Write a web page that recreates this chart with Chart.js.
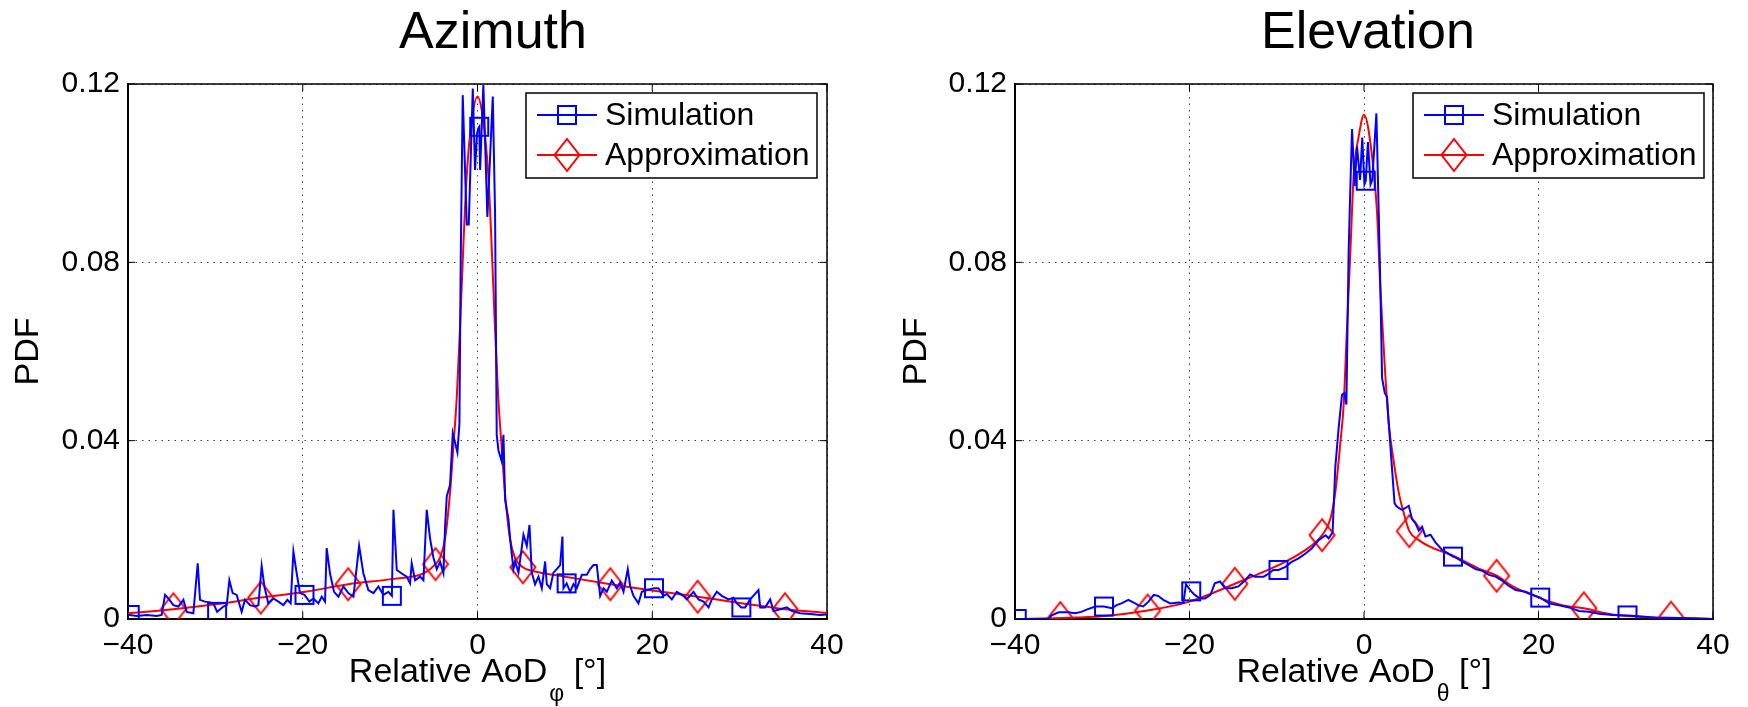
<!DOCTYPE html>
<html>
<head>
<meta charset="utf-8">
<script src="https://cdn.jsdelivr.net/npm/chart.js@4.4.0/dist/chart.umd.min.js"></script>
<style>
  html, body { margin: 0; padding: 0; background: #fff; }
  #wrap { position: relative; width: 1748px; height: 707px; }
  canvas { position: absolute; top: 0; }
  #azCanvas { left: 0; }
  #elCanvas { left: 874px; }
</style>
</head>
<body>
<div id="wrap">
  <canvas id="azCanvas" width="874" height="707"></canvas>
  <canvas id="elCanvas" width="874" height="707"></canvas>
</div>
<script>
// Azimuth - simulated PDF (blue)
const azSimX = [-40, -39.8, -39.0, -37.86, -36.72, -36.15, -35.76, -35.38, -34.81, -34.24, -33.66, -33.28, -32.52, -32.02, -31.76, -31.19, -30.61, -30.23, -29.8, -29.08, -28.7, -28.4, -28.02, -27.56, -26.99, -26.61, -26.03, -25.46, -25.08, -24.7, -24.39, -23.94, -23.36, -22.79, -22.22, -21.76, -21.38, -21.07, -20.69, -20.31, -19.8, -19.24, -18.78, -18.21, -17.83, -17.45, -17.26, -16.88, -16.42, -15.92, -15.35, -14.78, -14.2, -13.55, -13.06, -12.49, -11.91, -11.34, -10.77, -10.2, -9.8, -9.62, -9.24, -8.67, -8.1, -7.72, -7.53, -7.14, -6.57, -6.19, -5.81, -5.43, -5.05, -4.66, -4.28, -3.9, -3.71, -3.52, -3.14, -2.83, -2.56, -2.3, -2.07, -1.92, -1.69, -1.23, -1.0, -0.54, -0.28, -0.05, 0.1, 0.2, 0.3, 0.67, 1.13, 1.75, 2.01, 2.2, 2.4, 2.78, 2.97, 3.16, 3.54, 3.73, 4.11, 4.3, 4.69, 5.26, 5.64, 5.95, 6.21, 6.59, 6.98, 7.36, 7.74, 7.93, 8.31, 8.69, 9.07, 9.46, 9.72, 9.84, 10.2, 10.6, 10.98, 11.36, 11.94, 12.51, 12.89, 13.27, 13.65, 14.04, 14.42, 14.8, 15.37, 15.94, 16.32, 16.71, 17.2, 17.47, 17.85, 18.42, 18.81, 19.38, 20.2, 20.71, 21.29, 21.67, 22.24, 22.81, 23.57, 23.96, 24.72, 25.29, 25.87, 26.44, 26.82, 27.39, 27.96, 28.73, 29.3, 29.68, 30.2, 30.63, 31.21, 32.16, 32.35, 32.92, 33.5, 33.88, 34.64, 35.41, 35.98, 36.93, 38.08, 39.22, 40];
const azSimY = [0.0009, 0.0009, 0.0007, 0.0009, 0.0007, 0.0009, 0.0054, 0.0046, 0.0031, 0.0028, 0.0043, 0.0016, 0.0013, 0.0125, 0.0043, 0.0039, 0.0037, 0.0035, 0.0016, 0.0028, 0.0031, 0.0087, 0.0058, 0.0054, 0.0016, 0.0043, 0.0031, 0.0028, 0.0031, 0.0119, 0.0073, 0.0035, 0.0046, 0.0039, 0.0031, 0.0043, 0.0035, 0.0151, 0.0102, 0.0058, 0.0054, 0.0039, 0.0046, 0.0035, 0.0050, 0.0039, 0.0159, 0.0102, 0.0061, 0.0050, 0.0073, 0.0058, 0.0050, 0.0164, 0.0102, 0.0065, 0.0058, 0.0073, 0.0054, 0.0061, 0.0052, 0.0245, 0.0110, 0.0102, 0.0095, 0.0080, 0.0125, 0.0087, 0.0095, 0.0087, 0.0245, 0.0181, 0.0138, 0.0112, 0.0128, 0.0103, 0.0207, 0.0275, 0.0301, 0.0417, 0.0395, 0.0374, 0.0438, 0.0807, 0.1175, 0.0885, 0.0885, 0.1190, 0.1007, 0.1090, 0.1101, 0.1104, 0.1007, 0.1198, 0.0902, 0.1172, 0.0910, 0.0413, 0.0378, 0.0353, 0.0413, 0.0267, 0.0224, 0.0181, 0.0112, 0.0129, 0.0104, 0.0189, 0.0164, 0.0211, 0.0104, 0.0078, 0.0095, 0.0069, 0.0129, 0.0078, 0.0069, 0.0104, 0.0112, 0.0121, 0.0185, 0.0069, 0.0080, 0.0061, 0.0078, 0.0069, 0.0099, 0.0099, 0.0112, 0.0121, 0.0121, 0.0052, 0.0069, 0.0061, 0.0086, 0.0069, 0.0082, 0.0061, 0.0112, 0.0074, 0.0052, 0.0035, 0.0061, 0.0065, 0.0069, 0.0069, 0.0052, 0.0056, 0.0044, 0.0061, 0.0052, 0.0044, 0.0061, 0.0044, 0.0039, 0.0026, 0.0044, 0.0061, 0.0052, 0.0044, 0.0048, 0.0035, 0.0026, 0.0026, 0.0044, 0.0065, 0.0026, 0.0026, 0.0044, 0.0018, 0.0022, 0.0026, 0.0018, 0.0013, 0.0011, 0.0009, 0.0010];

// Azimuth - approximation (red)
const azFitX = [-40, -34.8, -30, -24.8, -19.7, -14.8, -9.6, -6.2, -4.8, -4.28, -3.71, -3.14, -2.76, -2.37, -2.0, -1.61, -1.23, -0.66, 0, 0.66, 1.23, 1.61, 2.0, 2.37, 2.76, 3.14, 3.71, 4.28, 5.2, 7, 10, 15.2, 20, 25.2, 30, 35.2, 40];
const azFitY = [0.0013, 0.0022, 0.0033, 0.0048, 0.0061, 0.0078, 0.0090, 0.0102, 0.0123, 0.0138, 0.0181, 0.0284, 0.0387, 0.0498, 0.0653, 0.0842, 0.0996, 0.1117, 0.1172, 0.1117, 0.0996, 0.0842, 0.0653, 0.0498, 0.0387, 0.0284, 0.0181, 0.0138, 0.0116, 0.0105, 0.0095, 0.0078, 0.0064, 0.0050, 0.0036, 0.0022, 0.0014];

// Elevation - simulated PDF (blue)
const elSimX = [-40, -39.8, -36.2, -35.8, -35.0, -33.9, -33.1, -32.4, -31.8, -30.8, -29.8, -28.9, -28.35, -27.8, -27.0, -26.4, -25.9, -25.3, -24.7, -24.1, -23.6, -23.0, -22.2, -21.3, -20.7, -20.4, -19.8, -19.4, -18.8, -18.2, -17.6, -17.1, -16.5, -15.9, -15.15, -14.4, -13.6, -13.05, -12.5, -11.5, -10.9, -10.4, -9.8, -9.0, -8.3, -7.5, -6.7, -6.0, -5.2, -4.4, -4.05, -3.6, -3.29, -2.9, -2.52, -2.25, -2.02, -1.76, -1.56, -1.37, -1.07, -0.8, -0.45, -0.2, 0.05, 0.2, 0.45, 0.75, 0.95, 1.42, 1.69, 1.88, 2.07, 2.38, 2.64, 2.84, 3.22, 3.5, 3.68, 3.98, 4.37, 4.75, 5.13, 5.51, 5.9, 6.28, 6.66, 7.04, 7.62, 8.19, 8.96, 9.72, 10.2, 10.49, 11.25, 12.02, 12.78, 13.55, 14.31, 15.08, 15.84, 16.61, 17.37, 18.52, 19.67, 20.2, 21.2, 22.35, 23.5, 24.64, 25.79, 26.94, 28.47, 30.2, 31.53, 33.44, 36.12, 40];
const elSimY = [0.0000, 0.0000, 0.0000, 0.0008, 0.0015, 0.0015, 0.0013, 0.0016, 0.0021, 0.0028, 0.0028, 0.0024, 0.0031, 0.0035, 0.0043, 0.0037, 0.0031, 0.0028, 0.0039, 0.0054, 0.0052, 0.0043, 0.0035, 0.0037, 0.0036, 0.0078, 0.0062, 0.0054, 0.0046, 0.0046, 0.0054, 0.0080, 0.0084, 0.0069, 0.0069, 0.0073, 0.0087, 0.0100, 0.0095, 0.0095, 0.0102, 0.0110, 0.0110, 0.0117, 0.0128, 0.0136, 0.0147, 0.0158, 0.0177, 0.0188, 0.0181, 0.0194, 0.0340, 0.0430, 0.0503, 0.0507, 0.0481, 0.0825, 0.0971, 0.1099, 0.0971, 0.1060, 0.0985, 0.1080, 0.0975, 0.0983, 0.1070, 0.0975, 0.0985, 0.1134, 0.0910, 0.0739, 0.0541, 0.0507, 0.0498, 0.0438, 0.0335, 0.0260, 0.0254, 0.0249, 0.0245, 0.0249, 0.0254, 0.0224, 0.0215, 0.0198, 0.0207, 0.0185, 0.0189, 0.0172, 0.0155, 0.0146, 0.0140, 0.0138, 0.0129, 0.0121, 0.0112, 0.0108, 0.0099, 0.0095, 0.0086, 0.0074, 0.0065, 0.0061, 0.0052, 0.0048, 0.0035, 0.0031, 0.0026, 0.0018, 0.0016, 0.0012, 0.0009, 0.0008, 0.0006, 0.0003, 0.0002, 0.0000];

// Elevation - approximation (red)
const elFitX = [-40, -34.8, -30, -24.8, -20, -14.8, -10, -7, -4.8, -3.86, -3.29, -2.71, -2.33, -1.95, -1.56, -1.18, -0.61, 0, 0.92, 1.5, 1.88, 2.38, 2.84, 3.41, 3.98, 4.75, 5.2, 6.28, 7.81, 10.1, 13.17, 15.2, 17.0, 20.05, 22.73, 25.2, 28.47, 32.3, 35.2, 40];
const elFitY = [0.0000, 0.0002, 0.0006, 0.0019, 0.0039, 0.0079, 0.0119, 0.0151, 0.0188, 0.0224, 0.0284, 0.0395, 0.0481, 0.0653, 0.0825, 0.0996, 0.1082, 0.1131, 0.1039, 0.0910, 0.0739, 0.0567, 0.0438, 0.0353, 0.0284, 0.0224, 0.0197, 0.0177, 0.0160, 0.0143, 0.0113, 0.0097, 0.0074, 0.0048, 0.0031, 0.0024, 0.0010, 0.0004, 0.0003, 0.0000];

// where the markers sit
const simMarkX = [-39.8, -29.8, -19.8, -9.8, 0.2, 10.2, 20.2, 30.2];
const fitMarkX = [-34.8, -24.8, -14.8, -4.8, 5.2, 15.2, 25.2, 35.2];

// axes
const xTicks = [-40, -20, 0, 20, 40];
const yTicks = [0, 0.04, 0.08, 0.12];

const FONT = '"Liberation Sans", Arial, Helvetica, sans-serif';
Chart.defaults.font.family = FONT;
Chart.defaults.color = "#000";

function points(xs, ys) {
  return xs.map((x, i) => ({ x: x, y: ys[i] }));
}

// marker images (MATLAB style open square / tall diamond)
function squareMarker(color) {
  const c = document.createElement("canvas");
  c.width = 24;
  c.height = 24;
  const g = c.getContext("2d");
  g.strokeStyle = color;
  g.lineWidth = 2;
  g.strokeRect(3, 3, 18, 18);
  return c;
}
function diamondMarker(color) {
  const c = document.createElement("canvas");
  c.width = 30;
  c.height = 38;
  const g = c.getContext("2d");
  g.strokeStyle = color;
  g.lineWidth = 2;
  g.beginPath();
  g.moveTo(15, 3);
  g.lineTo(27.5, 19);
  g.lineTo(15, 35);
  g.lineTo(2.5, 19);
  g.closePath();
  g.stroke();
  return c;
}
const blueSquare = squareMarker("#0000ff");
const redDiamond = diamondMarker("#ff0000");

function markAt(list) {
  return (ctx) => (ctx.raw && list.includes(ctx.raw.x) ? 1 : 0);
}

// top/right box edges and inward ticks
const framePlugin = {
  id: "frame",
  beforeDatasetsDraw(chart) {
    const { ctx, chartArea: a, scales: { x, y } } = chart;
    ctx.save();
    ctx.strokeStyle = "#000";
    ctx.lineWidth = 1.5;
    ctx.beginPath();
    ctx.moveTo(a.left, a.top);
    ctx.lineTo(a.right, a.top);
    ctx.lineTo(a.right, a.bottom);
    ctx.stroke();
    ctx.lineWidth = 1;
    ctx.beginPath();
    const t = 7;
    x.ticks.forEach((tk) => {
      const px = x.getPixelForValue(tk.value);
      ctx.moveTo(px, a.bottom);
      ctx.lineTo(px, a.bottom - t);
      ctx.moveTo(px, a.top);
      ctx.lineTo(px, a.top + t);
    });
    y.ticks.forEach((tk) => {
      const py = y.getPixelForValue(tk.value);
      ctx.moveTo(a.left, py);
      ctx.lineTo(a.left + t, py);
      ctx.moveTo(a.right, py);
      ctx.lineTo(a.right - t, py);
    });
    ctx.stroke();
    ctx.restore();
  },
};

// boxed legend inside the axes, line + marker sample
const boxLegend = {
  id: "boxLegend",
  afterDatasetsDraw(chart, args, opts) {
    const { ctx, chartArea: a } = chart;
    const w = 291, h = 85;
    const left = a.right - opts.gap - w;
    const top = a.top + 9;
    ctx.save();
    ctx.fillStyle = "#fff";
    ctx.fillRect(left, top, w, h);
    ctx.strokeStyle = "#000";
    ctx.lineWidth = 1.5;
    ctx.strokeRect(left, top, w, h);
    chart.data.datasets.forEach((ds, i) => {
      const cy = top + 22 + i * 40;
      ctx.strokeStyle = ds.borderColor;
      ctx.lineWidth = 2;
      ctx.beginPath();
      ctx.moveTo(left + 11, cy);
      ctx.lineTo(left + 71, cy);
      ctx.stroke();
      const img = ds.pointStyle;
      ctx.drawImage(img, left + 41 - img.width / 2, cy - img.height / 2);
      ctx.fillStyle = "#000";
      ctx.font = "32px " + FONT;
      ctx.textAlign = "left";
      ctx.textBaseline = "middle";
      ctx.fillText(ds.label, left + 79, cy + 1);
    });
    ctx.restore();
  },
};

// figure title and x label with subscript
const figLabels = {
  id: "figLabels",
  afterDraw(chart, args, opts) {
    const { ctx, chartArea: a } = chart;
    ctx.save();
    ctx.fillStyle = "#000";
    ctx.textBaseline = "alphabetic";
    ctx.textAlign = "center";
    ctx.font = "52px " + FONT;
    ctx.fillText(opts.title, opts.titleX, 48);

    const big = "34px " + FONT;
    const small = "23px " + FONT;
    ctx.textAlign = "left";
    ctx.font = big;
    const w1 = ctx.measureText(opts.xMain).width;
    const w3 = ctx.measureText(opts.xUnit).width;
    ctx.font = small;
    const w2 = ctx.measureText(opts.xSub).width;
    let x0 = (a.left + a.right) / 2 - (w1 + 2 + w2 + w3) / 2;
    ctx.font = big;
    ctx.fillText(opts.xMain, x0, 682);
    ctx.font = small;
    ctx.fillText(opts.xSub, x0 + w1 + 2, 701);
    ctx.font = big;
    ctx.fillText(opts.xUnit, x0 + w1 + 2 + w2, 682);
    ctx.restore();
  },
};

function makeChart(id, simX, simY, fitX, fitY, cfg) {
  return new Chart(document.getElementById(id), {
    type: "line",
    data: {
      datasets: [
        {
          label: "Simulation",
          data: points(simX, simY),
          borderColor: "#0000ff",
          backgroundColor: "#0000ff",
          borderWidth: 2,
          pointStyle: blueSquare,
          pointRadius: markAt(simMarkX),
          pointHoverRadius: 0,
          tension: 0,
        },
        {
          label: "Approximation",
          data: points(fitX, fitY),
          borderColor: "#ff0000",
          backgroundColor: "#ff0000",
          borderWidth: 2,
          pointStyle: redDiamond,
          pointRadius: markAt(fitMarkX),
          pointHoverRadius: 0,
          cubicInterpolationMode: "monotone",
        },
      ],
    },
    options: {
      responsive: false,
      animation: false,
      events: [],
      layout: { padding: { top: 84, right: cfg.padRight, bottom: 0, left: 0 } },
      scales: {
        x: {
          type: "linear",
          min: -40,
          max: 40,
          afterBuildTicks: (s) => { s.ticks = xTicks.map((v) => ({ value: v })); },
          afterFit: (s) => { s.height = 88; },
          grid: { color: "rgba(0,0,0,0.75)", lineWidth: 1, drawTicks: false },
          border: { display: true, color: "#000", width: 2, dash: [1.5, 5] },
          ticks: {
            padding: 9,
            font: { size: 30 },
            color: "#000",
            maxRotation: 0,
            callback: (v) => (v < 0 ? "\u2212" + Math.abs(v) : String(v)),
          },
        },
        y: {
          type: "linear",
          min: 0,
          max: 0.12,
          afterBuildTicks: (s) => { s.ticks = yTicks.map((v) => ({ value: v })); },
          afterFit: (s) => { s.width = cfg.yWidth; },
          grid: { color: "rgba(0,0,0,0.75)", lineWidth: 1, drawTicks: false },
          border: { display: true, color: "#000", width: 2, dash: [1.5, 5] },
          ticks: {
            padding: 8,
            font: { size: 30 },
            color: "#000",
            callback: (v) => (v === 0 ? "0" : String(+v.toFixed(2))),
          },
          title: {
            display: true,
            text: "PDF",
            font: { size: 34 },
            color: "#000",
            padding: { top: cfg.yTitlePad, bottom: 0 },
          },
        },
      },
      plugins: {
        legend: { display: false },
        tooltip: { enabled: false },
        boxLegend: { gap: cfg.legendGap },
        figLabels: {
          title: cfg.title,
          titleX: cfg.titleX,
          xMain: "Relative AoD",
          xSub: cfg.sub,
          xUnit: " [\u00b0]",
        },
      },
    },
    plugins: [framePlugin, boxLegend, figLabels],
  });
}

makeChart("azCanvas", azSimX, azSimY, azFitX, azFitY, {
  title: "Azimuth",
  titleX: 493,
  sub: "\u03c6",
  yWidth: 128,
  yTitlePad: 8,
  padRight: 47,
  legendGap: 10,
});

makeChart("elCanvas", elSimX, elSimY, elFitX, elFitY, {
  title: "Elevation",
  titleX: 494,
  sub: "\u03b8",
  yWidth: 141,
  yTitlePad: 22,
  padRight: 35,
  legendGap: 9,
});
</script>
</body>
</html>
